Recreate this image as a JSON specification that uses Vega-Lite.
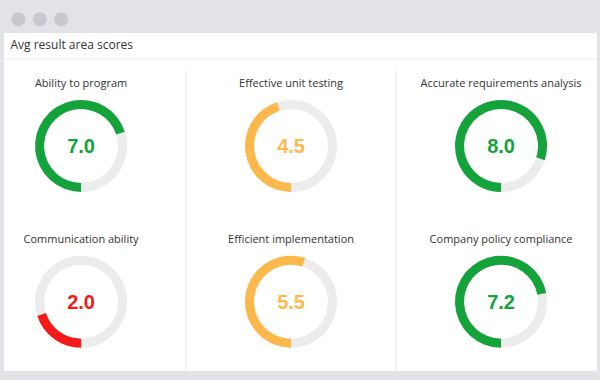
{
  "$schema": "https://vega.github.io/schema/vega-lite/v6.json",
  "width": 593,
  "height": 338,
  "autosize": "none",
  "padding": {"left": 4, "top": 33, "right": 3, "bottom": 9},
  "background": "#e2e3e7",
  "title": {
    "text": "● ● ●",
    "subtitle": "Avg result area scores",
    "anchor": "start",
    "frame": "bounds",
    "offset": -17.5,
    "dx": 7,
    "font": "DejaVu Sans",
    "fontSize": 18,
    "fontWeight": "normal",
    "color": "#c8c9ce",
    "subtitleFont": "Open Sans",
    "subtitleFontSize": 12,
    "subtitleColor": "#333333",
    "subtitlePadding": 12
  },
  "config": {"view": {"fill": "white", "stroke": null}},
  "datasets": {
    "scores": [
      {"metric": "Ability to program", "value": 7.0, "col": 1, "row": 1},
      {"metric": "Effective unit testing", "value": 4.5, "col": 2, "row": 1},
      {"metric": "Accurate requirements analysis", "value": 8.0, "col": 3, "row": 1},
      {"metric": "Communication ability", "value": 2.0, "col": 1, "row": 2},
      {"metric": "Efficient implementation", "value": 5.5, "col": 2, "row": 2},
      {"metric": "Company policy compliance", "value": 7.2, "col": 3, "row": 2}
    ],
    "separators": [{"sep": 1.5}, {"sep": 2.5}],
    "headerLine": [{"line": 0.442}]
  },
  "layer": [
    {
      "data": {"name": "headerLine"},
      "mark": {"type": "rule", "color": "#ededed", "strokeWidth": 1},
      "encoding": {
        "y": {"field": "line", "type": "quantitative", "axis": null,
              "scale": {"domain": [0.275, 2.445], "reverse": true, "nice": false, "zero": false}}
      }
    },
    {
      "data": {"name": "separators"},
      "mark": {"type": "rule", "color": "#efefef", "strokeWidth": 1.5},
      "encoding": {
        "x": {"field": "sep", "type": "quantitative", "axis": null,
              "scale": {"domain": [0.633, 3.457], "nice": false, "zero": false}},
        "y": {"datum": 0.519, "type": "quantitative", "axis": null},
        "y2": {"datum": 2.445}
      }
    },
    {
      "data": {"name": "scores"},
      "mark": {"type": "arc", "theta": 0, "theta2": 6.2832, "outerRadius": 46, "innerRadius": 37, "color": "#ececec"},
      "encoding": {
        "x": {"field": "col", "type": "quantitative", "axis": null},
        "y": {"field": "row", "type": "quantitative", "axis": null}
      }
    },
    {
      "data": {"name": "scores"},
      "mark": {"type": "arc", "outerRadius": 46, "innerRadius": 37},
      "encoding": {
        "x": {"field": "col", "type": "quantitative", "axis": null},
        "y": {"field": "row", "type": "quantitative", "axis": null},
        "theta": {"field": "value", "type": "quantitative", "stack": null,
                  "scale": {"domain": [0, 10], "range": [3.14159, 9.42478]}},
        "color": {"field": "value", "type": "quantitative", "legend": null,
                  "scale": {"type": "threshold", "domain": [4, 7], "range": ["#f51a1a", "#fdb84c", "#14a23b"]}}
      }
    },
    {
      "data": {"name": "scores"},
      "mark": {"type": "text", "font": "Liberation Sans", "fontWeight": "bold", "fontSize": 20, "align": "center", "baseline": "alphabetic", "dy": 7},
      "encoding": {
        "x": {"field": "col", "type": "quantitative", "axis": null},
        "y": {"field": "row", "type": "quantitative", "axis": null},
        "text": {"field": "value", "type": "quantitative", "format": ".1f"},
        "color": {"field": "value", "type": "quantitative", "legend": null,
                  "scale": {"type": "threshold", "domain": [4, 7], "range": ["#f51a1a", "#fdb84c", "#14a23b"]}}
      }
    },
    {
      "data": {"name": "scores"},
      "mark": {"type": "text", "font": "Open Sans", "fontSize": 11, "color": "#333333", "align": "center", "baseline": "alphabetic", "dy": -59},
      "encoding": {
        "x": {"field": "col", "type": "quantitative", "axis": null},
        "y": {"field": "row", "type": "quantitative", "axis": null},
        "text": {"field": "metric", "type": "nominal"}
      }
    }
  ]
}
